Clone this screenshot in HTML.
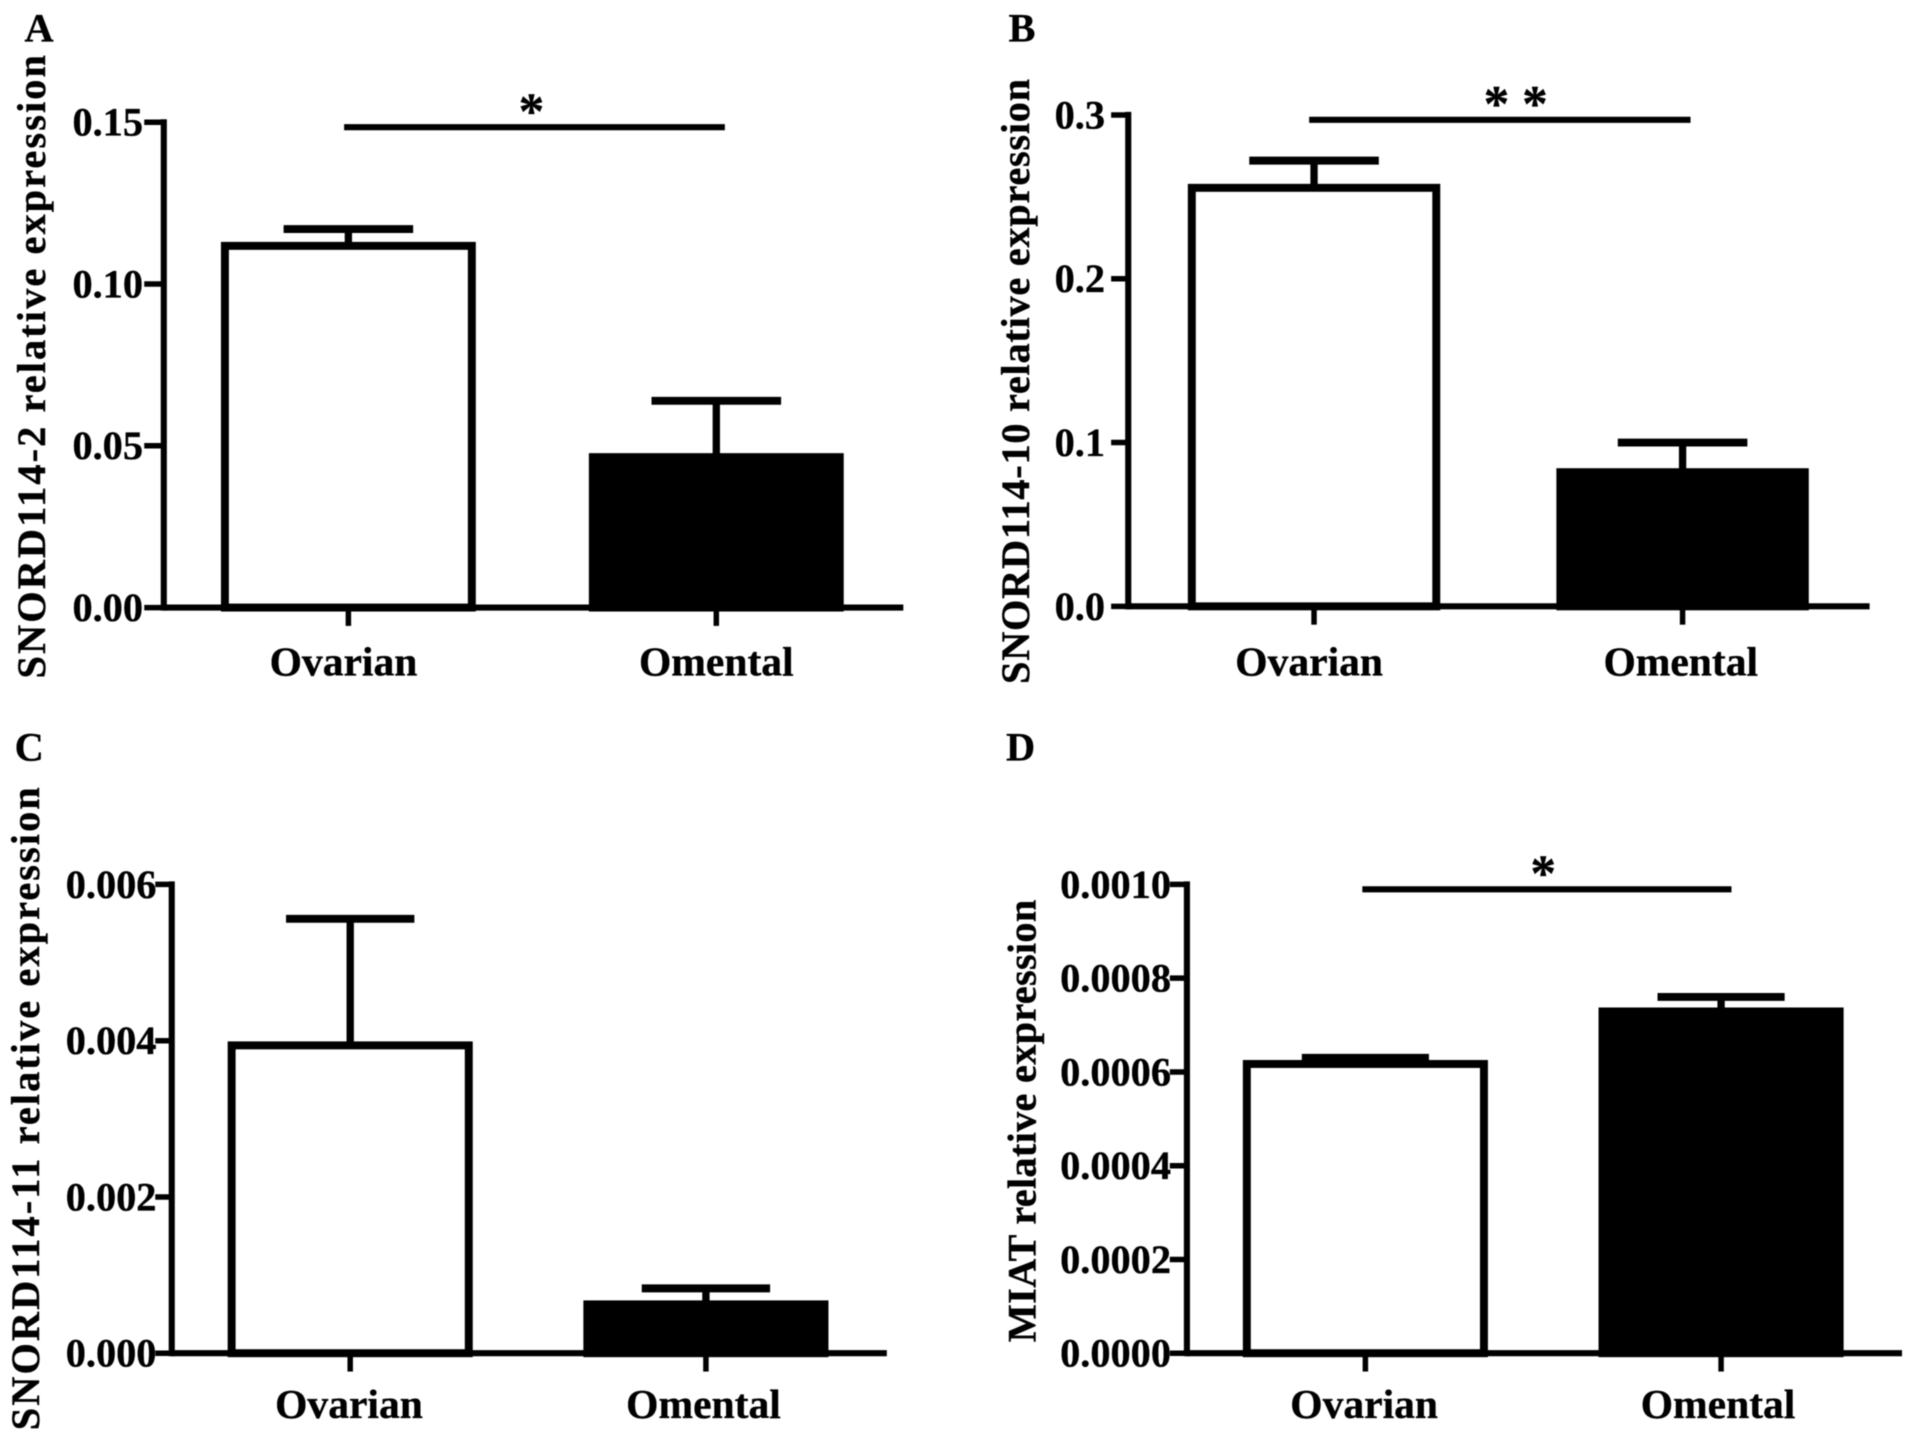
<!DOCTYPE html>
<html lang="en">
<head>
<meta charset="utf-8">
<title>Relative expression in ovarian and omental tissue</title>
<style>
html,body{margin:0;padding:0;background:#fff;}
body{width:1913px;height:1442px;overflow:hidden;}
svg{display:block;filter:blur(0.6px);}
text{font-family:"Liberation Serif",serif;font-weight:700;fill:#000;stroke:#000;stroke-width:0.3px;}
</style>
</head>
<body>
<svg id="figure" xmlns="http://www.w3.org/2000/svg" width="1913" height="1442" viewBox="0 0 1565 1179.6"></svg>
<script>
const categories = ['Ovarian', 'Omental'];

const panelATitle = 'SNORD114-2 relative expression';
const panelATickValues = [0, 0.05, 0.10, 0.15];
const panelATickLabels = ['0.00', '0.05', '0.10', '0.15'];
const panelAMeans = [0.1118, 0.0465];
const panelAErrors = [0.0052, 0.0174];

const panelBTitle = 'SNORD114-10 relative expression';
const panelBTickValues = [0, 0.1, 0.2, 0.3];
const panelBTickLabels = ['0.0', '0.1', '0.2', '0.3'];
const panelBMeans = [0.2555, 0.0819];
const panelBErrors = [0.0166, 0.0181];

const panelCTitle = 'SNORD114-11 relative expression';
const panelCTickValues = [0, 0.002, 0.004, 0.006];
const panelCTickLabels = ['0.000', '0.002', '0.004', '0.006'];
const panelCMeans = [0.00394, 0.000625];
const panelCErrors = [0.00162, 0.000205];

const panelDTitle = 'MIAT relative expression';
const panelDTickValues = [0, 0.0002, 0.0004, 0.0006, 0.0008, 0.0010];
const panelDTickLabels = ['0.0000', '0.0002', '0.0004', '0.0006', '0.0008', '0.0010'];
const panelDMeans = [0.000617, 0.000729];
const panelDErrors = [0.000013, 0.000031];

const SVG_NS = 'http://www.w3.org/2000/svg';
const figure = document.getElementById('figure');

function addLine(parent, name, x1, y1, x2, y2, width) {
  const el = document.createElementNS(SVG_NS, 'line');
  
  
  el.setAttribute('x1', x1);
  el.setAttribute('y1', y1);
  el.setAttribute('x2', x2);
  el.setAttribute('y2', y2);
  el.setAttribute('stroke', '#000');
  el.setAttribute('stroke-width', width);
  parent.appendChild(el);
  return el;
}

function addBar(parent, name, x, y, w, h, fill) {
  const el = document.createElementNS(SVG_NS, 'rect');
  
  
  el.setAttribute('x', x);
  el.setAttribute('y', y);
  el.setAttribute('width', w);
  el.setAttribute('height', h);
  el.setAttribute('fill', fill);
  el.setAttribute('stroke', '#000');
  el.setAttribute('stroke-width', 6.5);
  parent.appendChild(el);
  return el;
}

function addText(parent, name, content, x, y, size, anchor, length, rotated, adjust) {
  const el = document.createElementNS(SVG_NS, 'text');
  
  
  el.setAttribute('font-size', size);
  el.setAttribute('text-anchor', anchor);
  if (rotated) {
    el.setAttribute('transform', 'translate(' + x + ' ' + y + ') rotate(-90)');
  } else {
    el.setAttribute('x', x);
    el.setAttribute('y', y);
  }
  if (length) {
    el.setAttribute('textLength', length);
    el.setAttribute('lengthAdjust', adjust || 'spacingAndGlyphs');
  }
  el.textContent = content;
  parent.appendChild(el);
  return el;
}

function drawPanel(cfg) {
  const g = document.createElementNS(SVG_NS, 'g');
  
  
  figure.appendChild(g);

  const maxTick = cfg.tickValues[cfg.tickValues.length - 1];
  const yScale = function (v) {
    return cfg.base - (v / maxTick) * (cfg.base - cfg.top);
  };
  const xScale = function (i) {
    return cfg.first + i * (cfg.second - cfg.first);
  };

  addText(g, 'panel-letter', cfg.letter, cfg.letterX, cfg.letterY, 33, 'start');
  addText(g, 'y-axis-title', cfg.title, cfg.titleX, cfg.titleY, 33, 'middle', cfg.titleLength, true, 'spacing');

  cfg.means.forEach(function (mean, i) {
    const cx = xScale(i);
    const top = yScale(mean);
    const errTop = yScale(mean + cfg.errors[i]);
    const seriesKey = categories[i].toLowerCase();
    addLine(g, seriesKey + '-error-stem', cx, top, cx, errTop, 6);
    addLine(g, seriesKey + '-error-cap', cx - cfg.capWidth / 2, errTop, cx + cfg.capWidth / 2, errTop, 6.5);
    addBar(g, 'bar-' + seriesKey, cx - cfg.barWidth / 2 + 3, top, cfg.barWidth - 6, cfg.base - top, i === 0 ? '#fff' : '#000');
  });

  addLine(g, 'y-axis-line', cfg.axisX, cfg.top - 2.5, cfg.axisX, cfg.base + 2.5, 5);
  addLine(g, 'x-axis-line', cfg.axisX, cfg.base, cfg.right, cfg.base, 5);

  cfg.tickValues.forEach(function (v, i) {
    const y = yScale(v);
    addLine(g, 'y-tick', cfg.tickLeft, y, cfg.axisX, y, 4.5);
    addText(g, 'y-tick-label', cfg.tickLabels[i], cfg.labelRight, y + 11, 33, 'end');
  });

  categories.forEach(function (cat, i) {
    const cx = xScale(i);
    addLine(g, 'x-tick', cx, cfg.base, cx, cfg.base + 15, 4.5);
    addText(g, 'x-label-' + cat.toLowerCase(), cat, cx + cfg.labelOffsets[i], cfg.labelY, 34, 'middle');
  });

  if (cfg.sigX1 !== undefined) {
    addLine(g, 'significance-bar', cfg.sigX1, cfg.sigY, cfg.sigX2, cfg.sigY, 5);
    addText(g, 'significance-marker', cfg.stars, (cfg.sigX1 + cfg.sigX2) / 2 + cfg.starOffset, cfg.sigY + 1, 42, 'middle');
  }
}

drawPanel({
  name: 'panel-a', letter: 'A', letterX: 20, letterY: 34,
  title: panelATitle, titleX: 37, titleY: 300, titleLength: 510,
  tickValues: panelATickValues, tickLabels: panelATickLabels,
  means: panelAMeans, errors: panelAErrors,
  axisX: 134, top: 100, base: 497, tickLeft: 118, right: 739, labelRight: 117, labelY: 552.5,
  first: 285, second: 586, barWidth: 208, capWidth: 106, labelOffsets: [-4, 0],
  sigX1: 281.5, sigX2: 593, sigY: 104, stars: '*', starOffset: -2.5
});

drawPanel({
  name: 'panel-b', letter: 'B', letterX: 825, letterY: 34,
  title: panelBTitle, titleX: 842, titleY: 312, titleLength: 495,
  tickValues: panelBTickValues, tickLabels: panelBTickLabels,
  means: panelBMeans, errors: panelBErrors,
  axisX: 923, top: 94, base: 496, tickLeft: 909, right: 1529.5, labelRight: 904, labelY: 552.5,
  first: 1075, second: 1376.5, barWidth: 206, capWidth: 106, labelOffsets: [-4, -1.5],
  sigX1: 1071, sigX2: 1383, sigY: 98, stars: '* *', starOffset: 13
});

drawPanel({
  name: 'panel-c', letter: 'C', letterX: 12, letterY: 622,
  title: panelCTitle, titleX: 32, titleY: 907, titleLength: 526,
  tickValues: panelCTickValues, tickLabels: panelCTickLabels,
  means: panelCMeans, errors: panelCErrors,
  axisX: 140.5, top: 723.5, base: 1107, tickLeft: 127, right: 725.5, labelRight: 128, labelY: 1160,
  first: 286.5, second: 577.5, barWidth: 200, capWidth: 105, labelOffsets: [-1, -2],
  sigX1: undefined
});

drawPanel({
  name: 'panel-d', letter: 'D', letterX: 823, letterY: 622,
  title: panelDTitle, titleX: 847, titleY: 917, titleLength: 362,
  tickValues: panelDTickValues, tickLabels: panelDTickLabels,
  means: panelDMeans, errors: panelDErrors,
  axisX: 971, top: 723.5, base: 1107, tickLeft: 957, right: 1556, labelRight: 958, labelY: 1160,
  first: 1117, second: 1408, barWidth: 200, capWidth: 104, labelOffsets: [-1, -2.5],
  sigX1: 1114.5, sigX2: 1416.5, sigY: 727.5, stars: '*', starOffset: -3
});
</script>
</body>
</html>
